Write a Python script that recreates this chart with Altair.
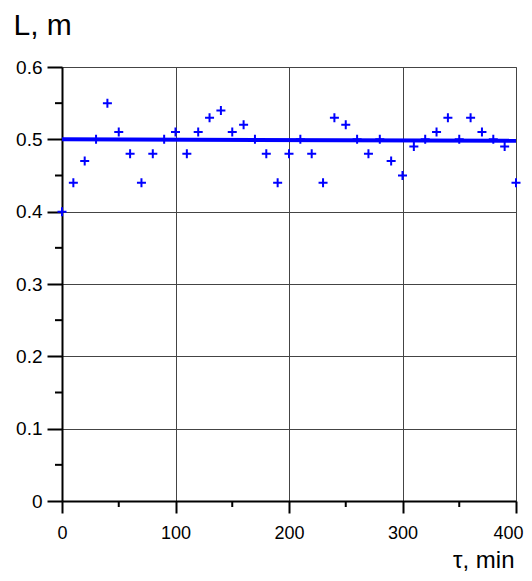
import altair as alt
import pandas as pd

# time, min
tau = [0, 10, 20, 30, 40, 50, 60, 70, 80, 90,
       100, 110, 120, 130, 140, 150, 160, 170, 180, 190,
       200, 210, 220, 230, 240, 250, 260, 270, 280, 290,
       300, 310, 320, 330, 340, 350, 360, 370, 380, 390, 400]
# measured L, m
L = [0.40, 0.44, 0.47, 0.50, 0.55, 0.51, 0.48, 0.44, 0.48, 0.50,
     0.51, 0.48, 0.51, 0.53, 0.54, 0.51, 0.52, 0.50, 0.48, 0.44,
     0.48, 0.50, 0.48, 0.44, 0.53, 0.52, 0.50, 0.48, 0.50, 0.47,
     0.45, 0.49, 0.50, 0.51, 0.53, 0.50, 0.53, 0.51, 0.50, 0.49, 0.44]

# fitted line
fit_tau = [0, 400]
fit_L = [0.500, 0.498]

x_major = [0, 100, 200, 300, 400]
x_minor = [50, 150, 250, 350]
y_major = [0, 0.1, 0.2, 0.3, 0.4, 0.5, 0.6]
y_minor = [0.05, 0.15, 0.25, 0.35, 0.45, 0.55]

W, H = 454, 434
FONT = "Liberation Sans"

pts = pd.DataFrame({"tau": tau, "L": L})
fit = pd.DataFrame({"tau": fit_tau, "L": fit_L})
xm = pd.DataFrame({"v": x_minor})
ym = pd.DataFrame({"v": y_minor})

xscale = alt.Scale(domain=[0, 400], nice=False, zero=False)
yscale = alt.Scale(domain=[0, 0.6], nice=False, zero=False)

xaxis = alt.Axis(values=x_major, format="d", grid=True, tickSize=12,
                 labelPadding=11, labelFontSize=18,
                 labelAlign=alt.expr("datum.value >= 400 ? 'right' : 'center'"),
                 labelOffset={"condition": {"test": "datum.value >= 400", "value": 7}, "value": 0},
                 title="τ, min", titleX=452, titleY=66,
                 titleAlign="right", titleBaseline="alphabetic",
                 titleFontSize=24, titleFontWeight="normal", titleFont=FONT)
yaxis = alt.Axis(values=y_major, format=".1~f", grid=True, tickSize=15,
                 labelPadding=5, title="L, m", titleAngle=0, titleX=-49,
                 titleY=-33, titleAlign="left", titleBaseline="alphabetic",
                 titleFontSize=30, titleFontWeight="normal", titleFont=FONT)

line = alt.Chart(fit).mark_line(color="#0000ff", strokeWidth=4).encode(
    x=alt.X("tau:Q", scale=xscale, axis=xaxis),
    y=alt.Y("L:Q", scale=yscale, axis=yaxis),
)

points = alt.Chart(pts).mark_point(
    shape="M-1,0L1,0M0,-1L0,1", size=81, filled=False, strokeWidth=2,
    color="#0000ff", opacity=1,
).encode(x=alt.X("tau:Q", scale=xscale), y=alt.Y("L:Q", scale=yscale))

xminor = alt.Chart(xm).mark_rule(color="black", strokeWidth=2).encode(
    x=alt.X("v:Q", scale=xscale),
    y=alt.value(H), y2=alt.value(H + 6),
)
yminor = alt.Chart(ym).mark_rule(color="black", strokeWidth=2).encode(
    y=alt.Y("v:Q", scale=yscale),
    x=alt.value(-7), x2=alt.value(0),
)

chart = alt.layer(line, points, xminor, yminor).properties(
    width=W, height=H,
    autosize=alt.AutoSizeParams(type="none"),
    padding={"left": 54, "top": 59, "right": 8, "bottom": 72},
).configure_view(
    stroke="#777777", strokeWidth=1,
).configure_axis(
    domainColor="black", domainWidth=2, tickColor="black", tickWidth=2,
    gridColor="#444444", gridWidth=1, gridOpacity=1,
    labelFont=FONT, labelFontSize=19, labelColor="black",
    titleColor="black", labelFlush=False, labelOverlap=False,
)

chart.save("out.html", embed_options={"renderer": "svg", "actions": False})
